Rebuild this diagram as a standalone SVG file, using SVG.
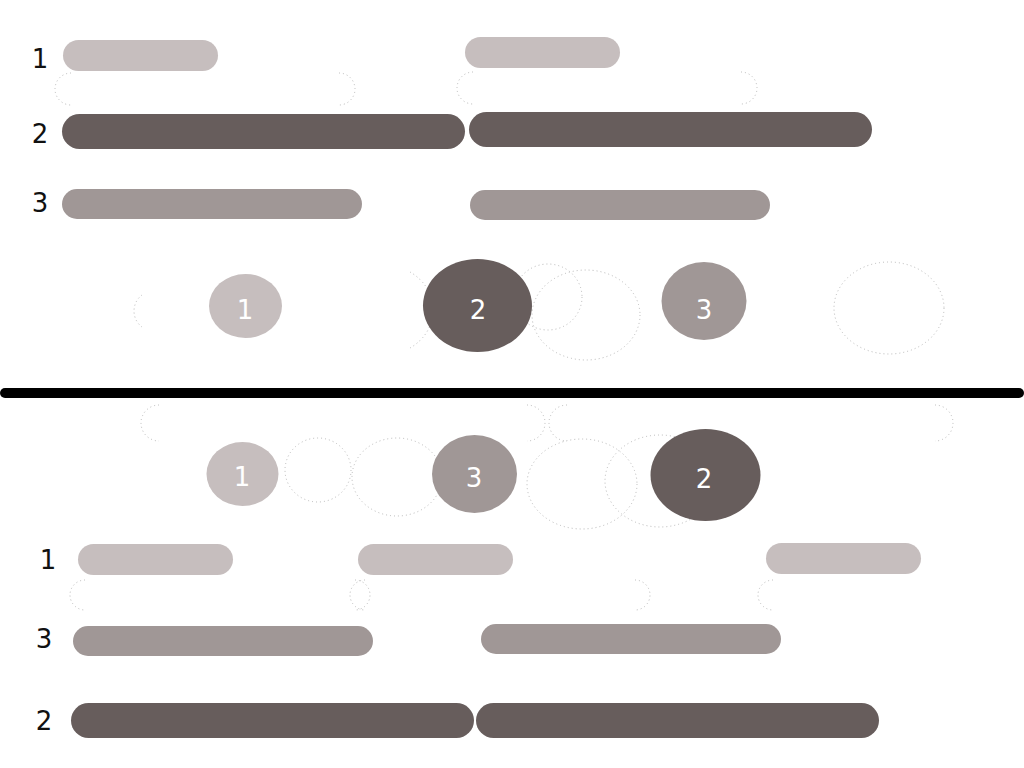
<svg xmlns="http://www.w3.org/2000/svg" width="1024" height="768" viewBox="0 0 1024 768">
<style>
.lt{fill:#c6bebe}
.md{fill:#a09796}
.dk{fill:#675d5c}
.dot{fill:none;stroke:#b8b8b8;stroke-width:1;stroke-dasharray:1 3}
.lbl{font-family:"DejaVu Sans",sans-serif;font-size:26px;fill:#111;text-anchor:middle}
.cl{font-family:"DejaVu Sans",sans-serif;font-size:26px;fill:#fff;text-anchor:middle}
</style>
<rect width="1024" height="768" fill="#fff"/>
<g id="faint">
<path class="dot" d="M71 73 A16 16 0 0 0 71 105 M339 73 A16 16 0 0 1 339 105"/>
<path class="dot" d="M473 72 A16 16 0 0 0 473 104 M741 72 A16 16 0 0 1 741 104"/>
<path class="dot" d="M159 405 A18 18 0 0 0 159 441 M527 405 A18 18 0 0 1 527 441"/>
<path class="dot" d="M567 405 A18 18 0 0 0 567 441 M935 405 A18 18 0 0 1 935 441"/>
<path class="dot" d="M85 580 A15 15 0 0 0 85 610 M355 580 A15 15 0 0 1 355 610"/>
<path class="dot" d="M365 580 A15 15 0 0 0 365 610 M635 580 A15 15 0 0 1 635 610"/>
<path class="dot" d="M773 580 A15 15 0 0 0 773 610"/>
<path class="dot" d="M142 295 A20 20 0 0 0 142 327"/>
<path class="dot" d="M410 272 A50 45 0 0 1 410 348"/>
<ellipse class="dot" cx="548" cy="297" rx="34" ry="33"/>
<ellipse class="dot" cx="586" cy="315" rx="54" ry="45"/>
<ellipse class="dot" cx="889" cy="308" rx="55" ry="46"/>
<ellipse class="dot" cx="318" cy="470" rx="33" ry="32"/>
<ellipse class="dot" cx="397" cy="477" rx="45" ry="39"/>
<ellipse class="dot" cx="582" cy="484" rx="55" ry="45"/>
<ellipse class="dot" cx="660" cy="481" rx="55" ry="46"/>
</g>
<g id="top-labels">
<text class="lbl" x="40" y="68">1</text>
<text class="lbl" x="40" y="143">2</text>
<text class="lbl" x="40" y="212">3</text>
</g>
<g id="top-bars">
<rect class="lt" x="63" y="40" width="155" height="31" rx="15.5"/>
<rect class="lt" x="465" y="37" width="155" height="31" rx="15.5"/>
<rect class="dk" x="62" y="114" width="403" height="35" rx="17.5"/>
<rect class="dk" x="469" y="112" width="403" height="35" rx="17.5"/>
<rect class="md" x="62" y="189" width="300" height="30" rx="15"/>
<rect class="md" x="470" y="190" width="300" height="30" rx="15"/>
</g>
<g id="top-circle-1"><ellipse class="lt" cx="245.5" cy="306" rx="36.5" ry="32"/><text class="cl" x="245" y="319">1</text></g>
<g id="top-circle-2"><ellipse class="dk" cx="477.5" cy="305.5" rx="54.5" ry="46.5"/><text class="cl" x="478" y="319">2</text></g>
<g id="top-circle-3"><ellipse class="md" cx="704" cy="301" rx="42.5" ry="39"/><text class="cl" x="704" y="319">3</text></g>
<g id="separator"><line x1="5" y1="393" x2="1019" y2="393" stroke="#000" stroke-width="10" stroke-linecap="round"/></g>
<g id="bottom-circle-1"><ellipse class="lt" cx="242.5" cy="474" rx="36" ry="32"/><text class="cl" x="242" y="486">1</text></g>
<g id="bottom-circle-3"><ellipse class="md" cx="474.5" cy="474" rx="42.5" ry="39"/><text class="cl" x="474" y="487">3</text></g>
<g id="bottom-circle-2"><ellipse class="dk" cx="705.5" cy="475" rx="55" ry="46"/><text class="cl" x="704" y="488">2</text></g>
<g id="bottom-labels">
<text class="lbl" x="48" y="569">1</text>
<text class="lbl" x="44" y="648">3</text>
<text class="lbl" x="44" y="730">2</text>
</g>
<g id="bottom-bars">
<rect class="lt" x="78" y="544" width="155" height="31" rx="15.5"/>
<rect class="lt" x="358" y="544" width="155" height="31" rx="15.5"/>
<rect class="lt" x="766" y="543" width="155" height="31" rx="15.5"/>
<rect class="md" x="73" y="626" width="300" height="30" rx="15"/>
<rect class="md" x="481" y="624" width="300" height="30" rx="15"/>
<rect class="dk" x="71" y="703" width="403" height="35" rx="17.5"/>
<rect class="dk" x="476" y="703" width="403" height="35" rx="17.5"/>
</g>
</svg>
